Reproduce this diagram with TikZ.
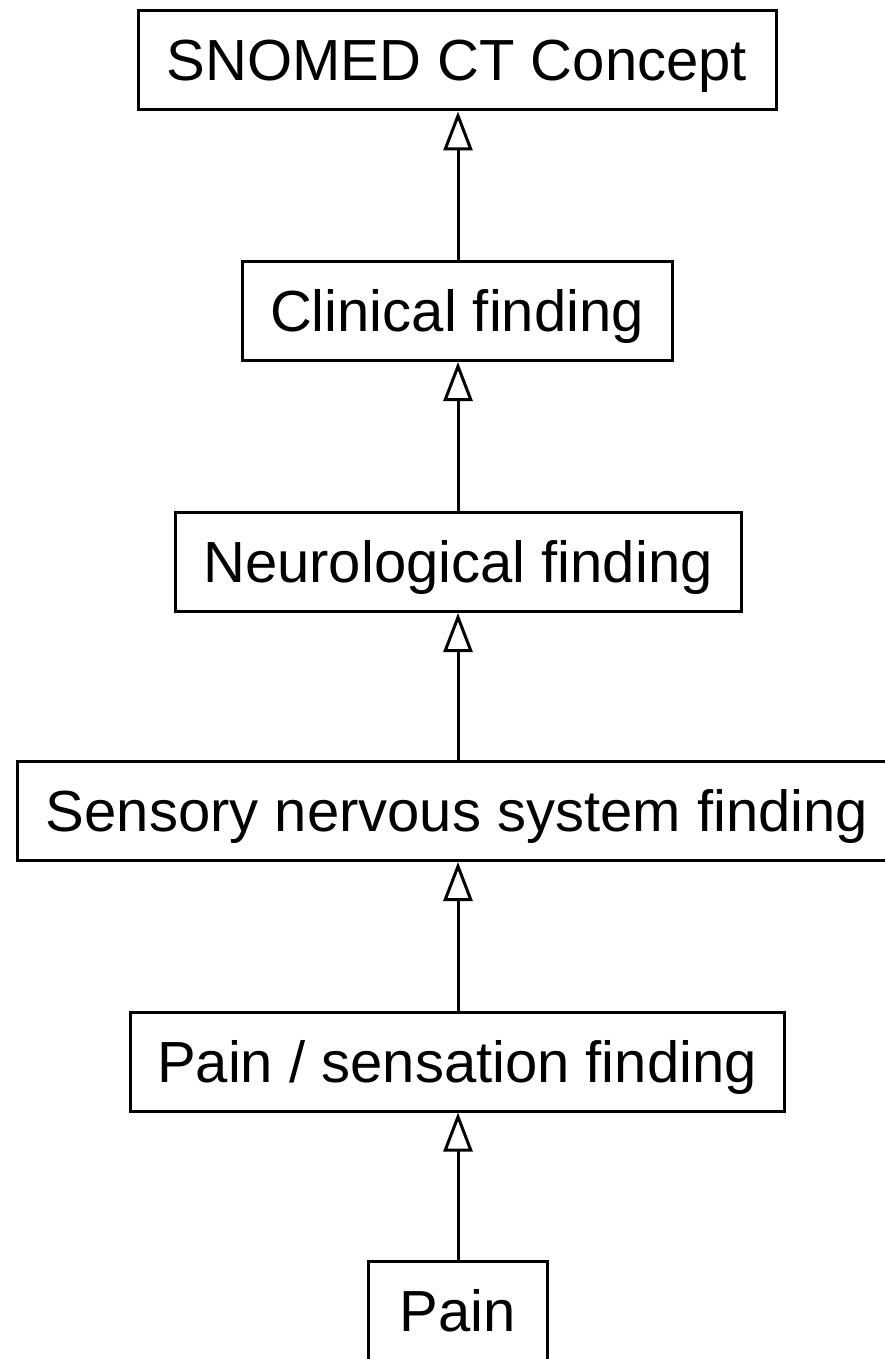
\documentclass[tikz,border=0pt]{standalone}
\usepackage{fontspec}
\setmainfont{Liberation Sans}
\usetikzlibrary{arrows.meta}
\begin{document}
\begin{tikzpicture}[x=1pt,y=-1pt,
  cbox/.style={draw=black,line width=3pt,fill=white,inner sep=0pt,
    minimum height=99pt,text height=41pt,text depth=0pt,
    font=\fontsize{58}{62}\selectfont},
  isa/.style={line width=3pt,-{Triangle[open,length=39pt,width=29pt,line width=3pt]}}]
\useasboundingbox[fill=white] (0,0) rectangle (884,1359);
\node[cbox,minimum width=638pt] (c1) at (457,60.5) {SNOMED CT Concept};
\node[cbox,minimum width=430pt] (c2) at (457,311) {Clinical finding};
\node[cbox,minimum width=566pt] (c3) at (458,562) {Neurological finding};
\node[cbox,minimum width=880pt] (c4) at (457,811) {Sensory nervous system finding};
\node[cbox,minimum width=654pt] (c5) at (457,1061.5) {Pain / sensation finding};
\node[cbox,minimum width=179pt] (c6) at (457.5,1311) {Pain};
\draw[isa] (c2.north -| 458,0) -- (c1.south -| 458,0);
\draw[isa] (c3.north -| 458,0) -- (c2.south -| 458,0);
\draw[isa] (c4.north -| 458,0) -- (c3.south -| 458,0);
\draw[isa] (c5.north -| 458,0) -- (c4.south -| 458,0);
\draw[isa] (c6.north -| 458,0) -- (c5.south -| 458,0);
\end{tikzpicture}
\end{document}
